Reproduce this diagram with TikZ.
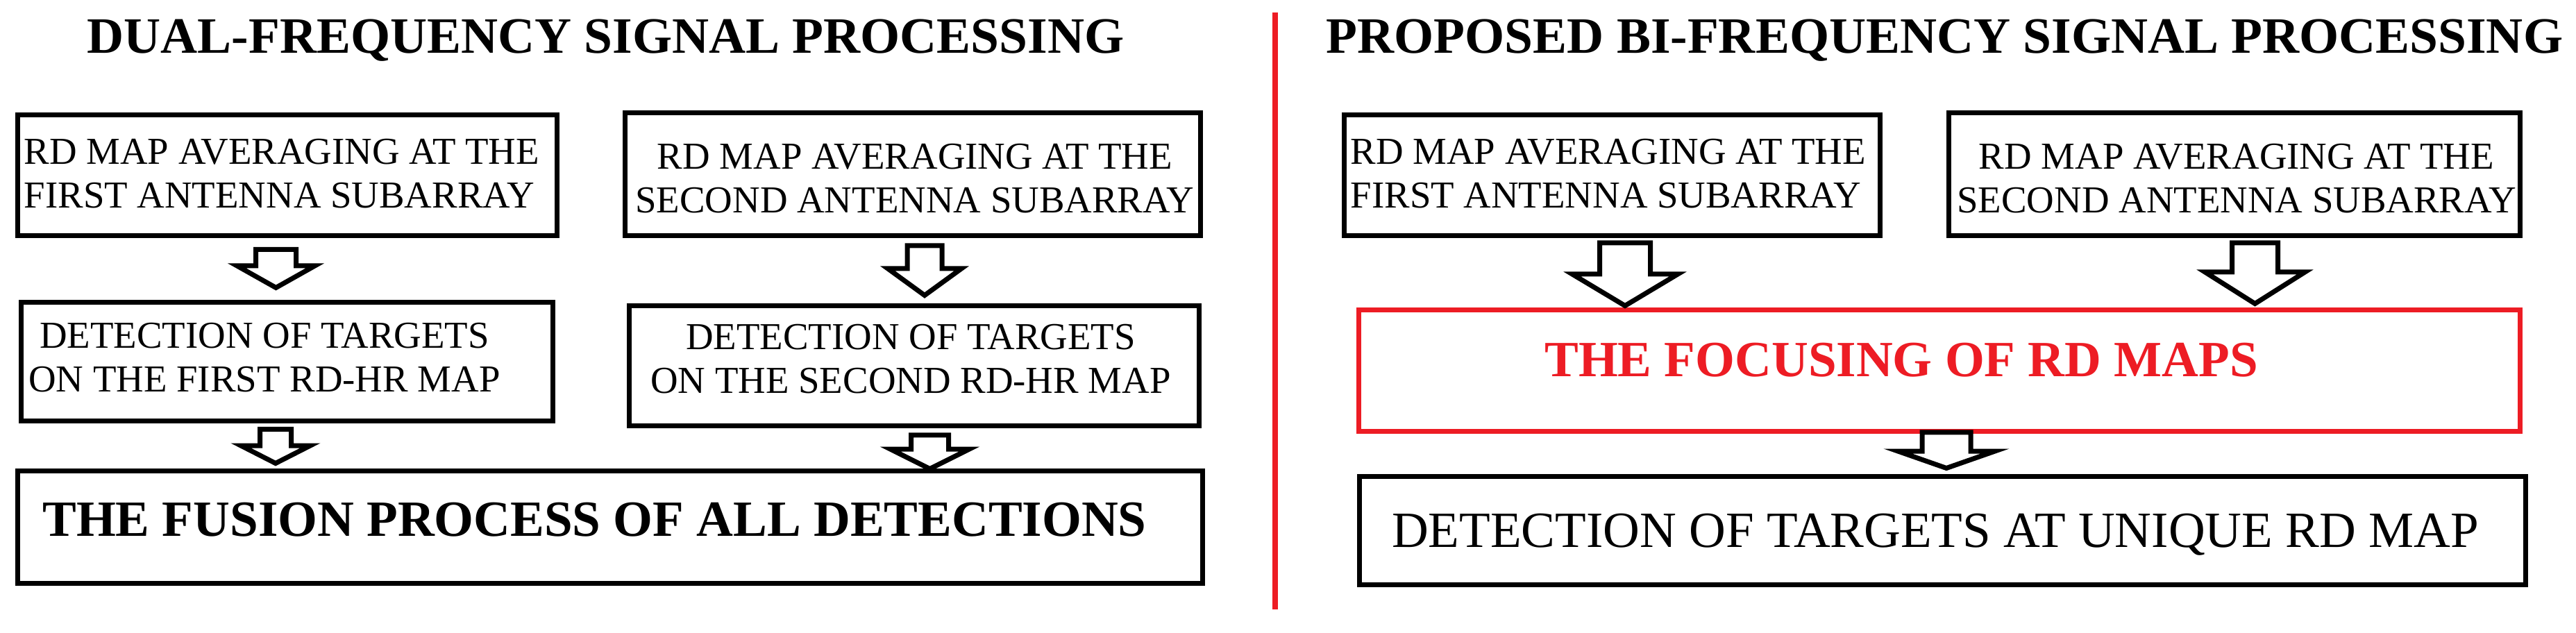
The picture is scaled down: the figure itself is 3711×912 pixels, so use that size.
\documentclass[tikz,border=0pt]{standalone}
\usepackage{fontspec}
\setmainfont{Liberation Serif}
\usetikzlibrary{calc}
\definecolor{mapred}{RGB}{237,28,36}
\tikzset{
    box/.style = {draw, line width=0.7mm, inner sep=0pt},
    smalltext/.style = {inner sep=0pt, font=\fontsize{15.6}{17.9}\selectfont},
    bigtext/.style = {inner sep=0pt, anchor=base, font=\fontsize{20.8}{24}\selectfont},
    headline/.style = {inner sep=0pt, anchor=base, font=\bfseries\fontsize{20.9}{24}\selectfont},
    divider/.style = {mapred, line width=0.75mm},
    blockarrow/.style = {draw, fill=white, line width=0.7mm}
}
\newcommand{\downarrowblock}[5]{%
    \draw[blockarrow] ($(#1)+(-#3,0)$) -- ($(#1)+(#3,0)$) -- ($(#2)+(#3,-#5)$) -- ($(#2)+(#4,-#5)$) -- (#2) -- ($(#2)+(-#4,-#5)$) -- ($(#2)+(-#3,-#5)$) -- cycle;}

\begin{document}
\begin{tikzpicture}[x=0.1mm, y=-0.1mm]
        \useasboundingbox (0,0) rectangle (3711,912);
        \node[headline] (titleDual) at (872.5,77) {DUAL-FREQUENCY SIGNAL PROCESSING};
        \node[headline] (titleBi) at (2801.5,77) {PROPOSED BI-FREQUENCY SIGNAL PROCESSING};
        \draw[divider] (1837,18) -- (1837,878);

        \node[box, minimum width=77.7mm, minimum height=17.4mm] (avgFirst) at (414,252.5) {};
        \node[box, minimum width=82.9mm, minimum height=17.7mm] (avgSecond) at (1315,251) {};
        \node[box, minimum width=76.6mm, minimum height=17.1mm] (detFirst) at (413.5,521) {};
        \node[box, minimum width=82.1mm, minimum height=17.3mm] (detSecond) at (1317,527) {};
        \node[box, minimum width=170.7mm, minimum height=16.2mm] (fusion) at (879,759.5) {};
        \node[smalltext, align=left, anchor=west] (avgFirstText) at (34,250) {RD MAP AVERAGING AT THE\\FIRST ANTENNA SUBARRAY};
        \node[smalltext, align=center] (avgSecondText) at (1318,257) {RD MAP AVERAGING AT THE\\SECOND ANTENNA SUBARRAY};
        \node[smalltext, align=center] (detFirstText) at (381,515) {DETECTION OF TARGETS\\ON THE FIRST RD-HR MAP};
        \node[smalltext, align=center] (detSecondText) at (1312,517.5) {DETECTION OF TARGETS\\ON THE SECOND RD-HR MAP};
        \node[bigtext, font=\bfseries\fontsize{20.8}{24}\selectfont] (fusionText) at (856.5,772) {THE FUSION PROCESS OF ALL DETECTIONS};

        \node[box, minimum width=77.2mm, minimum height=17.4mm] (avgFirstR) at (2322.5,252.5) {};
        \node[box, minimum width=82.3mm, minimum height=17.7mm] (avgSecondR) at (3219,251) {};
        \node[box, draw=mapred, minimum width=167.3mm, minimum height=17.5mm] (focus) at (2794,534) {};
        \node[box, minimum width=168mm, minimum height=15.6mm] (unique) at (2798.5,764.5) {};
        \node[smalltext, align=left, anchor=west] (avgFirstRText) at (1945,250) {RD MAP AVERAGING AT THE\\FIRST ANTENNA SUBARRAY};
        \node[smalltext, align=center] (avgSecondRText) at (3222,257) {RD MAP AVERAGING AT THE\\SECOND ANTENNA SUBARRAY};
        \node[bigtext, mapred, font=\bfseries\fontsize{20.8}{24}\selectfont] (focusText) at (2739,543) {THE FOCUSING OF RD MAPS};
        \node[bigtext] (uniqueText) at (2788,788) {DETECTION OF TARGETS AT UNIQUE RD MAP};

        \coordinate (s1) at ($(avgFirst.south)+(-16.5,16.5)$);
        \coordinate (t1) at ($(s1 |- detFirst.north)+(0,-17.5)$);
        \coordinate (s2) at ($(avgSecond.south)+(17,11)$);
        \coordinate (t2) at ($(s2 |- detSecond.north)+(0,-11.5)$);
        \coordinate (s3) at ($(detFirst.south)+(-16.5,8.5)$);
        \coordinate (t3) at ($(s3 |- fusion.north)+(0,-7.5)$);
        \coordinate (s4) at ($(detSecond.south)+(22.5,10)$);
        \coordinate (t4) at ($(s4 |- fusion.north)+(0,0.5)$);
        \coordinate (s5) at ($(avgFirstR.south)+(18.5,7)$);
        \coordinate (t5) at ($(s5 |- focus.north)+(0,-2.5)$);
        \coordinate (s6) at ($(avgSecondR.south)+(29.5,7)$);
        \coordinate (t6) at ($(s6 |- focus.north)+(0,-5.5)$);
        \coordinate (s7) at ($(focus.south)+(10,-2)$);
        \coordinate (t7) at ($(s7 |- unique.north)+(0,-8.5)$);
        \downarrowblock{s1}{t1}{29}{56}{31.5}
        \downarrowblock{s2}{t2}{25}{53}{38.5}
        \downarrowblock{s3}{t3}{22.5}{50}{25.5}
        \downarrowblock{s4}{t4}{27}{57}{28.5}
        \downarrowblock{s5}{t5}{36.5}{76}{45.5}
        \downarrowblock{s6}{t6}{33}{72}{45.5}
        \downarrowblock{s7}{t7}{35}{70}{24.5}
    \end{tikzpicture}
\end{document}
